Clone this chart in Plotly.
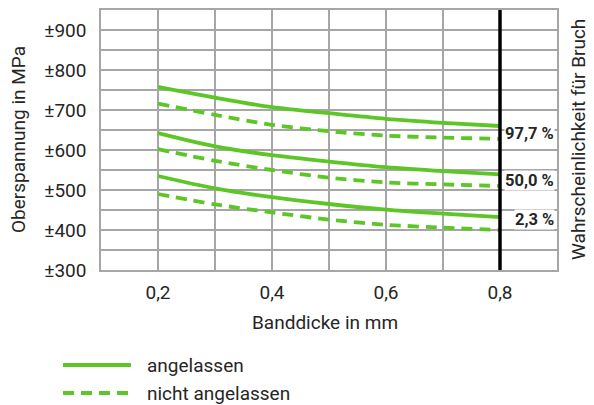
import plotly.graph_objects as go

# ---- data ----
banddicke = [0.2, 0.3, 0.4, 0.5, 0.6, 0.7, 0.8]
ang_977 = [758, 731, 707, 692, 678, 668, 660]
nicht_977 = [716, 688, 663, 647, 636, 631, 628]
ang_500 = [642, 609, 587, 571, 557, 547, 539]
nicht_500 = [602, 573, 550, 531, 519, 514, 510]
ang_23 = [535, 504, 482, 465, 451, 441, 432]
nicht_23 = [490, 464, 444, 426, 413, 406, 400]
prob_labels = ["97,7 %", "50,0 %", "2,3 %"]
prob_label_y = [642, 525, 427]
legend_names = ["angelassen", "nicht angelassen"]
y_ticks = list(range(300, 951, 50))
y_ticktext = [("±%d" % v if v % 100 == 0 and v < 950 else "") for v in y_ticks]
x_ticks = [0.1, 0.2, 0.3, 0.4, 0.5, 0.6, 0.7, 0.8, 0.9]
x_ticktext = ["", "0,2", "", "0,4", "", "0,6", "", "0,8", ""]

GREEN = "#5cc627"
FONT = "Roboto, Liberation Sans, sans-serif"
TXT = "#262626"
GRID = "#a6a6a6"
DASH = "11px,7px"
FS = 19
LW = 3.8

# page has an 8px body margin; target plot box in screen pixels
OFF = 8
W, H = 594 - OFF, 405 - OFF
PL, PR, PT, PB = 101, 557, 10, 270
ML, MR, MT, MB = PL - OFF, (OFF + W) - PR, PT - OFF, (OFF + H) - PB
PW, PH = PR - PL, PB - PT


def px_x(p):
    return (p - PL) / PW


def px_y(p):
    return (PB - p) / PH


fig = go.Figure()
series = [
    (ang_977, "solid"), (nicht_977, DASH),
    (ang_500, "solid"), (nicht_500, DASH),
    (ang_23, "solid"), (nicht_23, DASH),
]
for ys, dash in series:
    fig.add_trace(go.Scatter(
        x=banddicke, y=ys, mode="lines", showlegend=False, hoverinfo="x+y",
        line=dict(color=GREEN, width=LW, dash=dash, shape="spline", smoothing=0.8),
    ))

fig.add_shape(type="line", xref="x", yref="y", x0=0.8, x1=0.8, y0=300, y1=950,
              line=dict(color="black", width=3.5))

for lab, yv in zip(prob_labels, prob_label_y):
    fig.add_annotation(x=0.8965, y=yv, xref="x", yref="y", text="<b>%s</b>" % lab,
                       showarrow=False, xanchor="right", yanchor="middle",
                       bgcolor="white", borderpad=0,
                       font=dict(family=FONT, size=16.5, color=TXT))

# axis titles
fig.add_annotation(x=px_x(578), y=px_y(140), xref="paper", yref="paper",
                   text="Wahrscheinlichkeit für Bruch", showarrow=False, textangle=-90,
                   xanchor="center", yanchor="middle",
                   font=dict(family=FONT, size=FS, color=TXT))
fig.add_annotation(x=px_x(18), y=px_y(140), xref="paper", yref="paper",
                   text="Oberspannung in MPa", showarrow=False, textangle=-90,
                   xanchor="center", yanchor="middle",
                   font=dict(family=FONT, size=FS, color=TXT))
fig.add_annotation(x=px_x(325), y=px_y(322), xref="paper", yref="paper",
                   text="Banddicke in mm", showarrow=False,
                   xanchor="center", yanchor="middle",
                   font=dict(family=FONT, size=FS, color=TXT))

# legend (drawn manually to match the long line samples)
for name, dash, ypx in zip(legend_names, ["solid", DASH], [365, 393]):
    fig.add_shape(type="line", xref="paper", yref="paper",
                  x0=px_x(63), x1=px_x(131), y0=px_y(ypx), y1=px_y(ypx),
                  line=dict(color=GREEN, width=LW, dash=dash))
    fig.add_annotation(x=px_x(145), y=px_y(ypx), xref="paper", yref="paper", text=name,
                       showarrow=False, xanchor="left", yanchor="middle",
                       font=dict(family=FONT, size=FS, color=TXT))

axis_common = dict(showline=True, linecolor=GRID, linewidth=1.5, mirror=True,
                   showgrid=True, gridcolor=GRID, gridwidth=1.5, zeroline=False,
                   ticks="", automargin=False, tickfont=dict(family=FONT, size=FS, color=TXT))

fig.update_layout(
    width=W, height=H,
    margin=dict(l=ML, r=MR, t=MT, b=MB),
    paper_bgcolor="white", plot_bgcolor="white",
    font=dict(family=FONT, size=FS, color=TXT),
    showlegend=False,
    xaxis=dict(range=[0.1, 0.9], tickvals=x_ticks, ticktext=x_ticktext, ticklabelstandoff=4,
               **axis_common),
    yaxis=dict(range=[300, 950], tickvals=y_ticks, ticktext=y_ticktext, ticklabelstandoff=9,
               **axis_common),
)

fig.write_html("out.html")
